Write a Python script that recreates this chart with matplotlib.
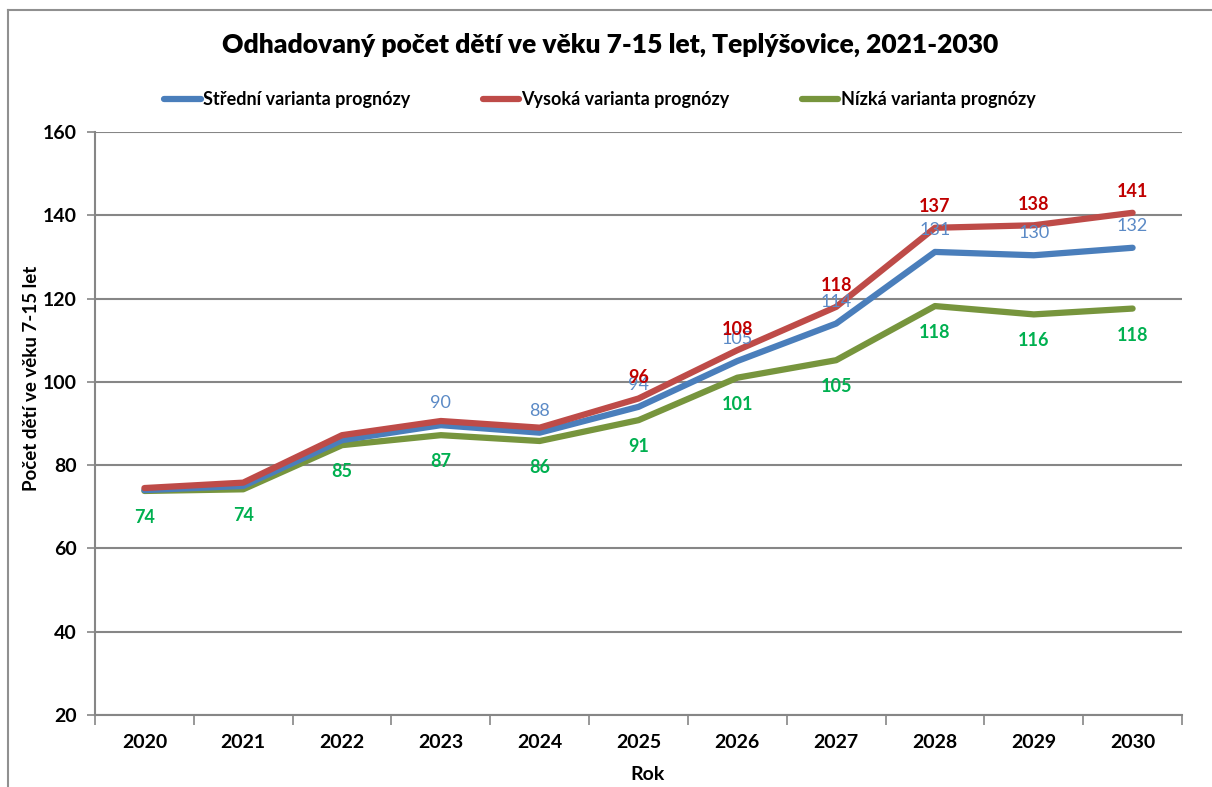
import matplotlib.pyplot as plt
import matplotlib.lines as mlines
import numpy as np

plt.rcParams['font.family'] = ['Lato', 'DejaVu Sans']

# data
roky = ['2020', '2021', '2022', '2023', '2024', '2025', '2026', '2027', '2028', '2029', '2030']
stredni = [74, 75, 86, 89.6, 87.8, 94, 105, 114, 131.2, 130.4, 132.2]
vysoka = [74.5, 75.8, 87.2, 90.6, 89, 96, 107.6, 118, 137, 137.6, 140.6]
nizka = [73.8, 74.2, 84.8, 87.2, 85.8, 90.8, 101, 105.2, 118.2, 116.2, 117.6]

# which labels are shown
stredni_lbl = [False, False, False, True, True, True, True, True, True, True, True]
vysoka_lbl = [False, False, False, False, False, True, True, True, True, True, True]
nizka_lbl = [True] * 11

W, H = 1212, 787
fig = plt.figure(figsize=(W / 100, H / 100), dpi=100)
ax = fig.add_axes([95 / W, 1 - 715 / H, (1182 - 95) / W, (715 - 132) / H])

x = np.arange(len(roky))
c_mid, c_hi, c_lo = '#4A7EBB', '#BE4B48', '#77953D'
ax.plot(x, stredni, color=c_mid, lw=4.5, label='Střední varianta prognózy', zorder=3,
        solid_capstyle='round')
ax.plot(x, vysoka, color=c_hi, lw=4.5, label='Vysoká varianta prognózy', zorder=4,
        solid_capstyle='round')
ax.plot(x, nizka, color=c_lo, lw=4.5, label='Nízká varianta prognózy', zorder=2,
        solid_capstyle='round')

# popisky hodnot
for i in range(len(roky)):
    if stredni_lbl[i]:
        ax.annotate(f'{round(stredni[i])}', (x[i], stredni[i]), xytext=(0, 10),
                    textcoords='offset points', ha='center', va='bottom',
                    color='#5B8AC6', fontsize=13, zorder=5)
    if vysoka_lbl[i]:
        ax.annotate(f'{round(vysoka[i])}', (x[i], vysoka[i]), xytext=(0, 9),
                    textcoords='offset points', ha='center', va='bottom',
                    color='#C00000', fontsize=13, fontweight='bold', zorder=6)
    if nizka_lbl[i]:
        ax.annotate(f'{round(nizka[i])}', (x[i], nizka[i]), xytext=(0, -13),
                    textcoords='offset points', ha='center', va='top',
                    color='#00B050', fontsize=13, fontweight='bold', zorder=5)

ax.set_xlim(-0.5, len(roky) - 0.5)
ax.set_ylim(20, 160)
ax.set_yticks(np.arange(20, 161, 20))
ax.set_xticks(x)
ax.set_xticklabels(roky)
ax.set_xticks(np.arange(-0.5, len(roky), 1), minor=True)
ax.tick_params(axis='x', which='major', length=0, pad=14, labelsize=14)
ax.tick_params(axis='x', which='minor', length=7, color='#868686', width=1.2)
ax.tick_params(axis='y', length=6, color='#868686', width=1.2, labelsize=14, pad=7)
for lb in ax.get_xticklabels() + ax.get_yticklabels():
    lb.set_fontweight('bold')

ax.grid(axis='y', color='#868686', lw=1.5, zorder=1)
ax.set_axisbelow(True)
for s in ['top', 'right']:
    ax.spines[s].set_visible(False)
for s in ['left', 'bottom']:
    ax.spines[s].set_color('#868686')
    ax.spines[s].set_linewidth(1.5)

fig.text(610 / W, 1 - 45 / H, 'Odhadovaný počet dětí ve věku 7-15 let, Teplýšovice, 2021-2030',
         ha='center', va='center', fontsize=19, fontweight='heavy')
fig.text(648 / W, 1 - 775 / H, 'Rok', ha='center', va='center', fontsize=14, fontweight='bold')
fig.text(32 / W, 1 - 378 / H, 'Počet dětí ve věku 7-15 let', ha='center', va='center',
         rotation=90, fontsize=13.5, fontweight='bold')

fig.legend(loc='center', bbox_to_anchor=(600 / W, 1 - 100 / H), ncol=3, frameon=False,
           handlelength=2.0, handletextpad=0.15, columnspacing=4.0,
           prop={'size': 13, 'weight': 'bold'})

# outer frame
fig.add_artist(mlines.Line2D([8 / W, 1], [1 - 10 / H, 1 - 10 / H], color='#909090', lw=1.5,
                             transform=fig.transFigure))
fig.add_artist(mlines.Line2D([8 / W, 8 / W], [0, 1 - 10 / H], color='#909090', lw=1.5,
                             transform=fig.transFigure))

fig.savefig('out.png', dpi=100)
